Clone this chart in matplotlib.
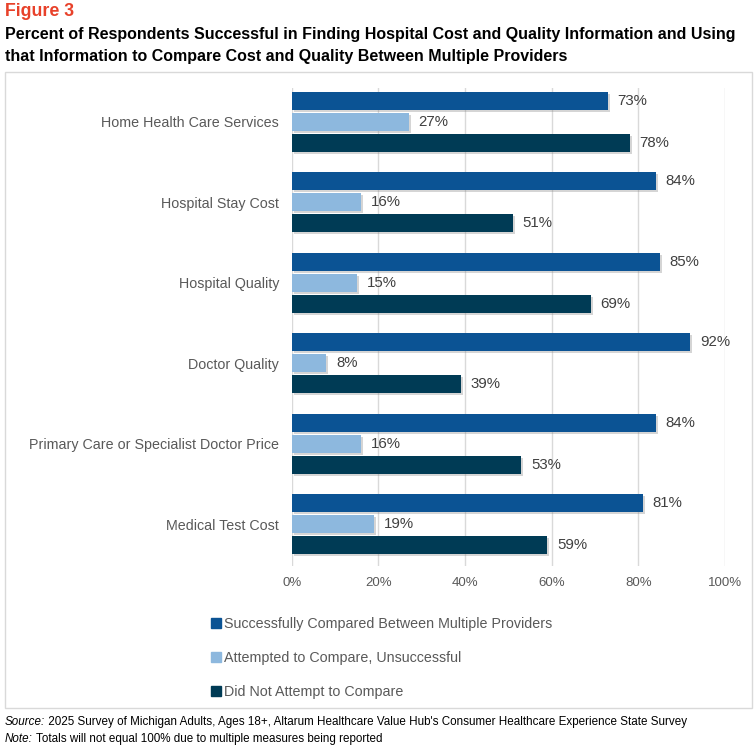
import matplotlib.pyplot as plt
import matplotlib.patheffects as pe
from matplotlib.patches import Rectangle
from matplotlib.lines import Line2D

categories = [
    "Home Health Care Services",
    "Hospital Stay Cost",
    "Hospital Quality",
    "Doctor Quality",
    "Primary Care or Specialist Doctor Price",
    "Medical Test Cost",
]
successful = [73, 84, 85, 92, 84, 81]
unsuccessful = [27, 16, 15, 8, 16, 19]
not_attempted = [78, 51, 69, 39, 53, 59]

series_names = [
    "Successfully Compared Between Multiple Providers",
    "Attempted to Compare, Unsuccessful",
    "Did Not Attempt to Compare",
]
colors = ["#0B5394", "#8DB8DE", "#003B55"]
x_ticks = [0, 20, 40, 60, 80, 100]

FONT = ["Liberation Sans", "DejaVu Sans"]
GREY = "#595959"

fig = plt.figure(figsize=(7.55, 7.47), dpi=100)

# chart frame
fig.patches.append(Rectangle((5 / 755, 1 - 708 / 747), 747 / 755, 636 / 747,
                             transform=fig.transFigure, fill=False,
                             edgecolor="#D9D9D9", linewidth=1))

ax = fig.add_axes([291.7 / 755, 1 - 566 / 747, 433.3 / 755, 478 / 747])

pitch = 0.262
height = 0.225
shadow = [pe.SimplePatchShadow(offset=(1.5, -1.5), shadow_rgbFace="#888888", alpha=0.35),
          pe.Normal()]
all_series = [successful, unsuccessful, not_attempted]
for i, (vals, col) in enumerate(zip(all_series, colors)):
    ys = [g + (i - 1) * pitch for g in range(len(categories))]
    bars = ax.barh(ys, vals, height=height, color=col, zorder=3)
    for b, v in zip(bars, vals):
        b.set_path_effects(shadow)
        ax.annotate(f"{v}%", (v, b.get_y() + b.get_height() / 2),
                    xytext=(7, 0), textcoords="offset points",
                    va="center", ha="left", fontsize=10.8, color="#404040",
                    family=FONT)

ax.set_xlim(0, 100)
ax.set_ylim(5.52, -0.42)
ax.set_xticks(x_ticks)
ax.set_xticklabels([f"{t}%" for t in x_ticks], fontsize=9.5, color=GREY, family=FONT)
ax.set_yticks(range(len(categories)))
ax.set_yticklabels(categories, fontsize=10.3, color=GREY, family=FONT)
ax.tick_params(axis="both", length=0)
ax.tick_params(axis="y", pad=9)
ax.tick_params(axis="x", pad=8)
ax.grid(axis="x", color="#D9D9D9", linewidth=1, zorder=0)
for s in ax.spines.values():
    s.set_visible(False)

handles = [Line2D([], [], marker="s", linestyle="", markersize=6.5,
                  markerfacecolor=c, markeredgecolor=c) for c in colors]
fig.legend(handles, series_names, loc="upper left",
           bbox_to_anchor=(205 / 755, 1 - 611 / 747), frameon=False,
           prop={"family": FONT, "size": 10.3}, labelcolor=GREY,
           handlelength=0.7, handletextpad=0.25, labelspacing=1.4,
           borderaxespad=0)

fig.text(5 / 755, 1 - 12 / 747, "Figure 3", fontsize=12.8, fontweight="bold",
         color="#E8412A", family=FONT, va="center")
fig.text(5 / 755, 1 - 34 / 747,
         "Percent of Respondents Successful in Finding Hospital Cost and Quality Information and Using",
         fontsize=11.5, fontweight="bold", color="black", family=FONT, va="center")
fig.text(5 / 755, 1 - 57 / 747,
         "that Information to Compare Cost and Quality Between Multiple Providers",
         fontsize=11.5, fontweight="bold", color="black", family=FONT, va="center")

src = fig.text(5 / 755, 1 - 722 / 747, "Source:", fontsize=8.4, style="italic",
               family=FONT, va="center")
ax.annotate(" 2025 Survey of Michigan Adults, Ages 18+, Altarum Healthcare Value Hub's Consumer Healthcare Experience State Survey",
            xy=(1, 0.5), xycoords=src, va="center", ha="left", fontsize=8.4,
            family=FONT, annotation_clip=False)
note = fig.text(5 / 755, 1 - 739 / 747, "Note:", fontsize=8.4, style="italic",
                family=FONT, va="center")
ax.annotate(" Totals will not equal 100% due to multiple measures being reported",
            xy=(1, 0.5), xycoords=note, va="center", ha="left", fontsize=8.4,
            family=FONT, annotation_clip=False)

fig.savefig("out.png", dpi=100)
